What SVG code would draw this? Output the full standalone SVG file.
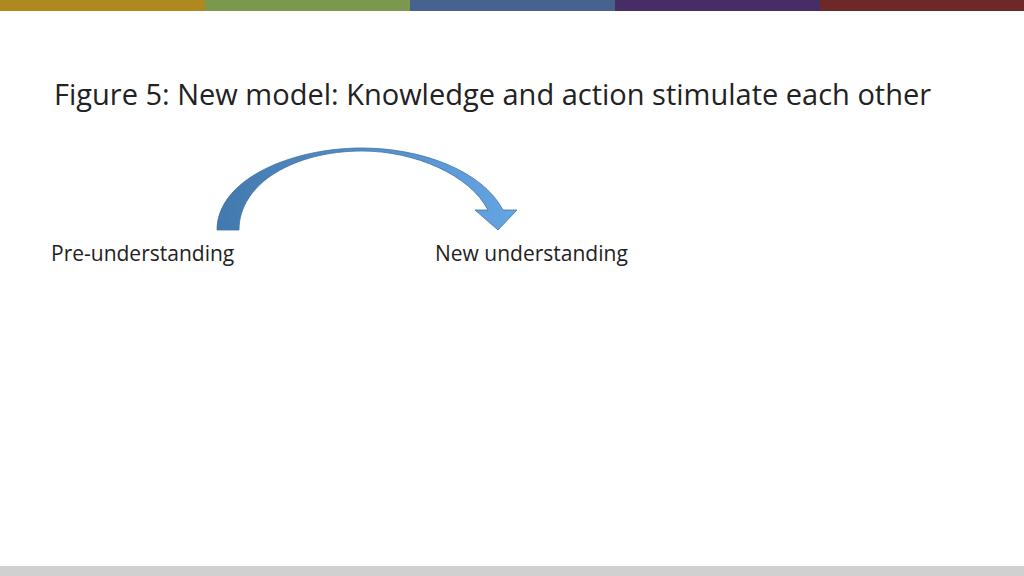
<svg xmlns="http://www.w3.org/2000/svg" width="1024" height="576" viewBox="0 0 1024 576">
<defs>
<linearGradient id="g" x1="0" y1="0" x2="1" y2="0"><stop offset="0" stop-color="#4279ae"/><stop offset="1" stop-color="#65a5e3"/></linearGradient>
<style>.t{font-family:"Open Sans","Liberation Sans",sans-serif;fill:#222}</style>
</defs>
<rect width="1024" height="576" fill="#fff"/>
<rect x="0" y="0" width="205" height="11" fill="#b08820"/>
<rect x="205" y="0" width="205" height="11" fill="#7c984c"/>
<rect x="410" y="0" width="205" height="11" fill="#46628f"/>
<rect x="615" y="0" width="205" height="11" fill="#472d66"/>
<rect x="820" y="0" width="204" height="11" fill="#6e2828"/>
<rect x="0" y="566" width="1024" height="10" fill="#d0d0d0"/>
<text class="t" x="54" y="105" font-size="29">Figure 5: New model: Knowledge and action stimulate each other</text>
<g id="connectors">
<path d="M217,230 C217,180 290,148 362,148 C420,148 482,170 503,210 L517,210 L498,230 L475,210 L488,210 C470,175 415,151 362,151 C295,151 239,183 239,230 Z" fill="url(#g)" stroke="#3f74a6" stroke-width="0.8"/>
</g>
<g id="n1"><text class="t" x="51" y="261" font-size="21">Pre-understanding</text></g>
<g id="n2"><text class="t" x="435" y="261" font-size="21">New understanding</text></g>
</svg>
